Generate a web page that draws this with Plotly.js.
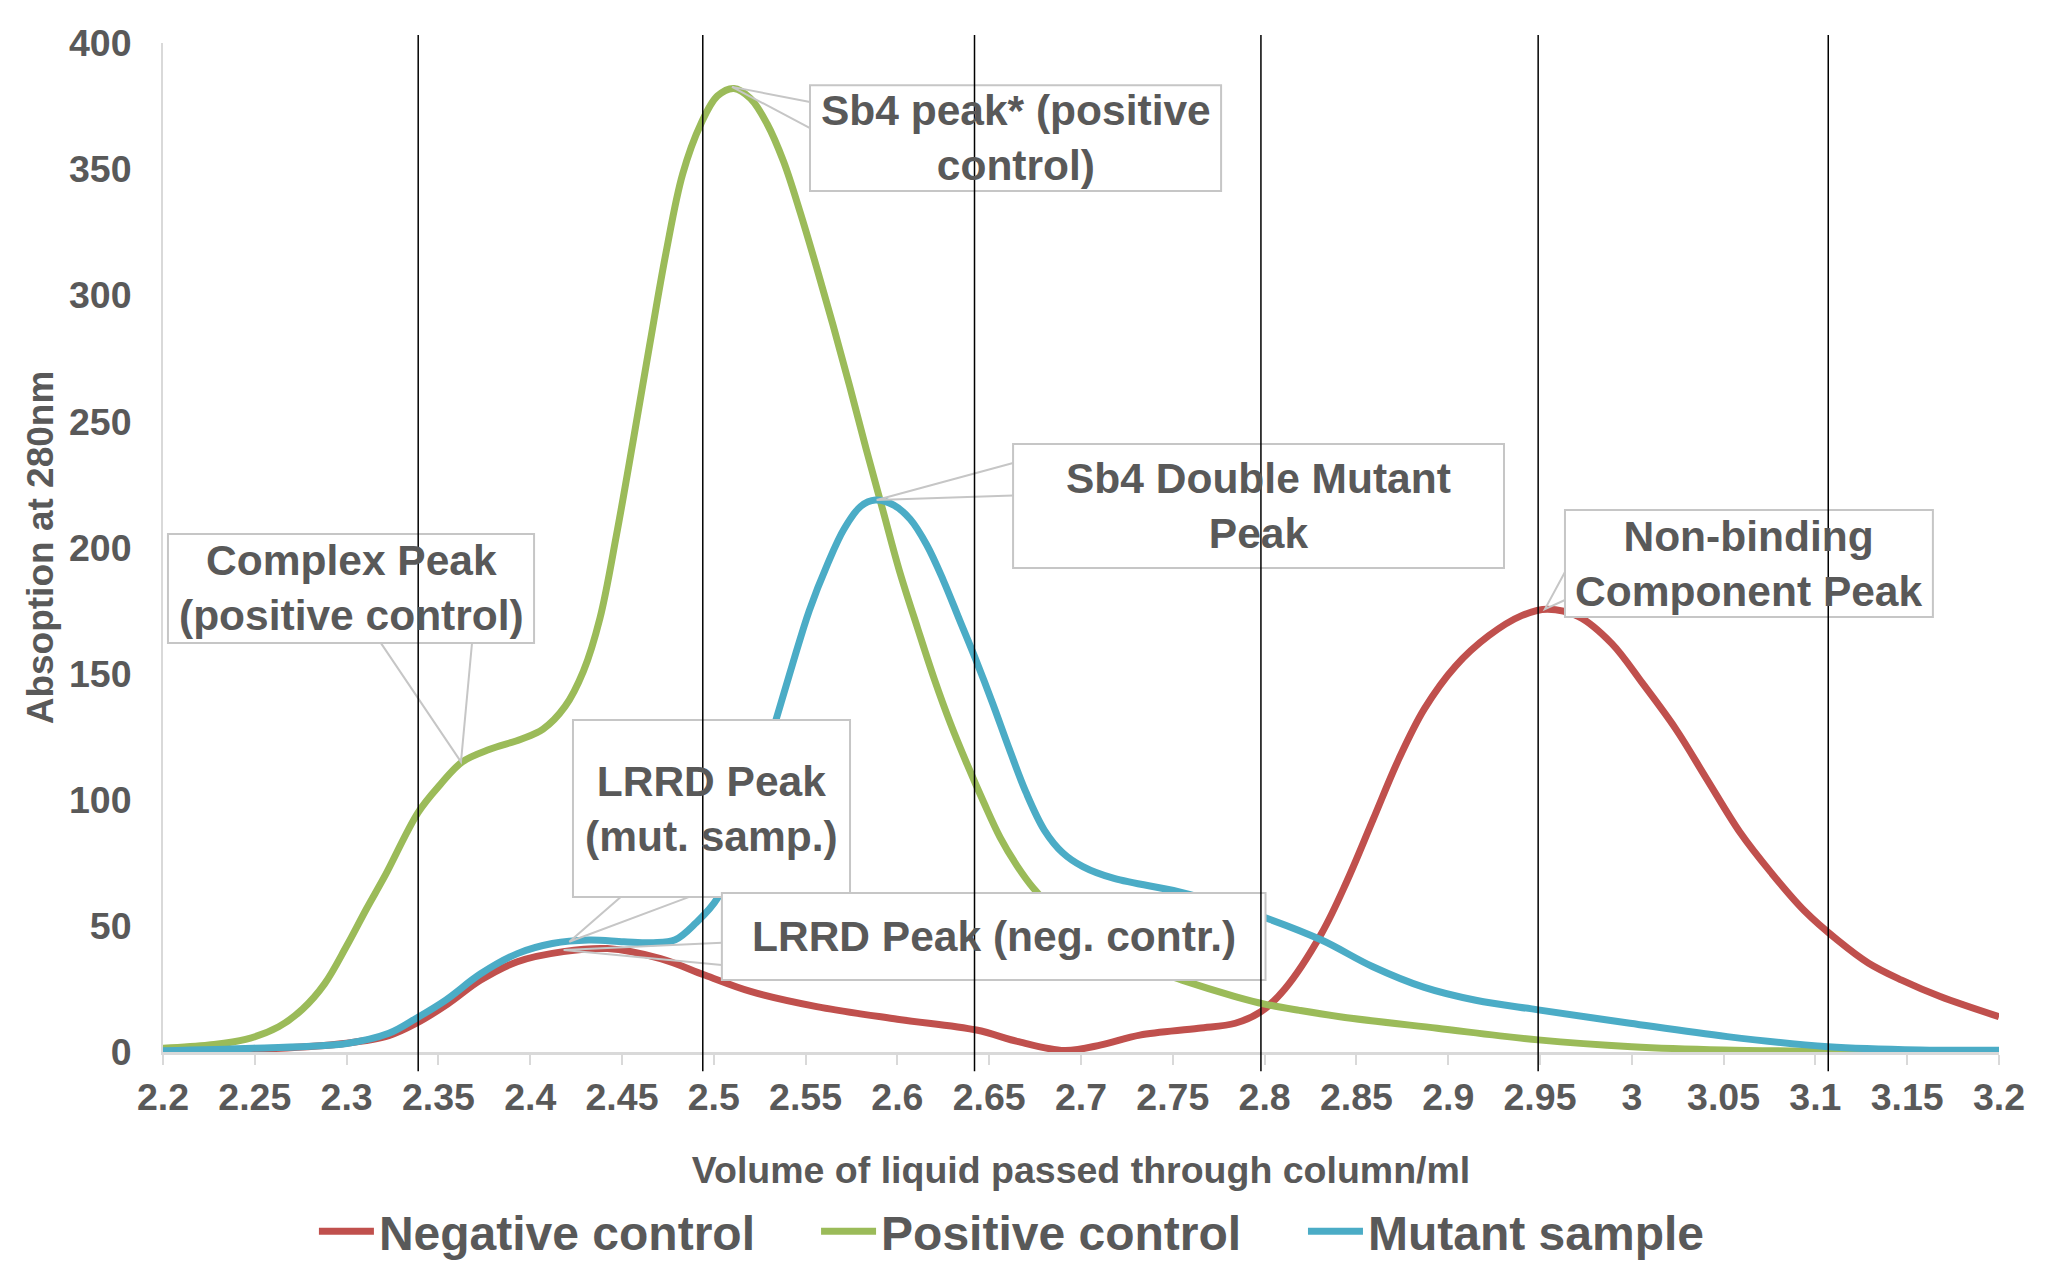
<!DOCTYPE html>
<html>
<head>
<meta charset="utf-8">
<script src="https://cdn.plot.ly/plotly-3.0.1.min.js"></script>
<style>
  html, body { margin: 0; padding: 0; background: #ffffff; }
  #chart { width: 2061px; height: 1265px; }
</style>
</head>
<body>
<div id="chart"></div>
<script>
// ---------- data ----------
const seriesNames = ['Negative control', 'Positive control', 'Mutant sample'];

const negX = [2.20, 2.25, 2.30, 2.323, 2.338, 2.355, 2.373, 2.393, 2.418, 2.442, 2.471, 2.495, 2.52, 2.556, 2.60, 2.643, 2.666, 2.691, 2.711, 2.732, 2.764, 2.784, 2.798, 2.811, 2.831, 2.845, 2.859, 2.873, 2.887, 2.904, 2.922, 2.940, 2.954, 2.971, 2.989, 3.006, 3.024, 3.041, 3.059, 3.076, 3.094, 3.112, 3.129, 3.147, 3.168, 3.20];
const negY = [0.3, 1, 3.5, 6.5, 11.4, 19, 28.5, 35.8, 39.8, 41, 37, 30.5, 24, 18, 13, 8.7, 4.1, 0.6, 2.8, 6.7, 9.4, 11.4, 16, 25, 47, 68, 92, 116, 136, 153, 165, 173, 175.5, 172.6, 162, 146, 128, 108, 87, 71, 56, 44.4, 35.2, 28.5, 22, 14];

const posX = [2.20, 2.225, 2.245, 2.263, 2.276, 2.288, 2.300, 2.311, 2.321, 2.339, 2.351, 2.363, 2.378, 2.395, 2.407, 2.419, 2.429, 2.438, 2.447, 2.456, 2.465, 2.474, 2.483, 2.493, 2.502, 2.511, 2.520, 2.529, 2.538, 2.547, 2.556, 2.565, 2.574, 2.583, 2.592, 2.601, 2.611, 2.620, 2.629, 2.638, 2.647, 2.656, 2.665, 2.674, 2.69, 2.71, 2.73, 2.755, 2.784, 2.80, 2.819, 2.841, 2.894, 2.949, 3.00, 3.05, 3.107, 3.15, 3.20];
const posY = [1.5, 2.8, 5, 10, 17, 27, 42, 57, 70, 95, 106, 115, 120, 124, 128, 137, 151, 172, 205, 242, 280, 317, 348, 368, 379, 382, 378, 368, 353, 333, 311, 288, 264, 239, 215, 191, 168, 148, 130, 114, 99, 85, 74, 65, 53, 43, 35, 28.5, 22, 19, 16.5, 14, 9.4, 4.8, 2.1, 0.8, 0.3, 0.1, 0];

const mutX = [2.20, 2.249, 2.30, 2.323, 2.338, 2.354, 2.373, 2.393, 2.412, 2.432, 2.451, 2.467, 2.479, 2.490, 2.502, 2.512, 2.523, 2.534, 2.543, 2.552, 2.562, 2.571, 2.580, 2.588, 2.598, 2.607, 2.616, 2.625, 2.634, 2.643, 2.652, 2.661, 2.670, 2.680, 2.690, 2.701, 2.718, 2.753, 2.776, 2.799, 2.831, 2.859, 2.887, 2.915, 2.949, 2.999, 3.052, 3.107, 3.157, 3.20];
const mutY = [0.5, 1.5, 3.4, 7.4, 13.4, 20.6, 31, 39, 43, 44.4, 43.7, 43.3, 44.5, 51, 61, 80, 106, 132, 154, 175, 193.5, 207.4, 216.3, 218.8, 216.8, 211.2, 201, 187, 171, 155, 138, 120, 103, 88, 79, 73.5, 68.8, 63.6, 59, 53.6, 44.4, 33.8, 25.6, 20.5, 16.7, 11.4, 6.1, 2.1, 0.8, 0.7];

const xTickVals = [2.2, 2.25, 2.3, 2.35, 2.4, 2.45, 2.5, 2.55, 2.6, 2.65, 2.7, 2.75, 2.8, 2.85, 2.9, 2.95, 3.0, 3.05, 3.1, 3.15, 3.2];
const xTickText = ['2.2', '2.25', '2.3', '2.35', '2.4', '2.45', '2.5', '2.55', '2.6', '2.65', '2.7', '2.75', '2.8', '2.85', '2.9', '2.95', '3', '3.05', '3.1', '3.15', '3.2'];
const yTickVals = [0, 50, 100, 150, 200, 250, 300, 350, 400];
const yTickText = ['0', '50', '100', '150', '200', '250', '300', '350', '400'];

// hand-drawn vertical marker lines (x in ml)
const markerLinesX = [2.339, 2.494, 2.642, 2.798, 2.949, 3.107];

// ---------- styling / layout ----------
const colors = ['#C0504D', '#9BBB59', '#4BACC6'];
const textColor = '#595959';
const FONT = '"Liberation Sans", Arial, Helvetica, sans-serif';
const legendKeys = ['legend', 'legend2', 'legend3'];
const legendX = [0.0822, 0.3557, 0.6209];

const traces = [
  {x: negX, y: negY, name: seriesNames[0]},
  {x: posX, y: posY, name: seriesNames[1]},
  {x: mutX, y: mutY, name: seriesNames[2]}
].map((t, i) => Object.assign(t, {
  type: 'scatter', mode: 'lines', legend: legendKeys[i],
  line: {color: colors[i], width: 7, shape: 'spline', smoothing: 1},
  hoverinfo: 'skip'
}));

// callout boxes: [x0, x1, y0, y1] in data units, wedge tip and base points
const callouts = [
  {text: 'Sb4 peak* (positive<br>control)', box: [2.5524, 2.7763, 341.3, 383.3],
   tip: [2.5099, 382.6], b1: [2.5524, 376.6], b2: [2.5524, 366.3]},
  {text: 'Sb4 Double Mutant<br>Peak', box: [2.663, 2.9304, 191.9, 241.0],
   tip: [2.5887, 218.8], b1: [2.663, 233.5], b2: [2.663, 220.6]},
  {text: 'Non-binding<br>Component Peak', box: [2.9636, 3.164, 172.4, 214.9],
   tip: [2.9527, 175.6], b1: [2.9636, 190.3], b2: [2.9636, 179.2]},
  {text: 'Complex Peak<br>(positive control)', box: [2.2027, 2.4021, 162.1, 205.4],
   tip: [2.3623, 115.0], b1: [2.3187, 162.1], b2: [2.3683, 162.1]},
  {text: 'LRRD Peak<br>(mut. samp.)', box: [2.4233, 2.5742, 61.4, 131.6],
   tip: [2.4213, 43.7], b1: [2.4493, 61.4], b2: [2.4863, 61.4]},
  {text: 'LRRD Peak (neg. contr.)', box: [2.5044, 2.8005, 28.5, 63.0],
   tip: [2.4182, 40.4], b1: [2.5044, 43.3], b2: [2.5044, 34.5]}
];

const shapes = [];
const annotations = [];
callouts.forEach(c => {
  shapes.push({type: 'rect', xref: 'x', yref: 'y', layer: 'above',
    x0: c.box[0], x1: c.box[1], y0: c.box[2], y1: c.box[3],
    fillcolor: '#ffffff', line: {color: '#c6c6c6', width: 2}});
  shapes.push({type: 'path', xref: 'x', yref: 'y', layer: 'above',
    path: `M${c.b1[0]},${c.b1[1]} L${c.tip[0]},${c.tip[1]} L${c.b2[0]},${c.b2[1]}`,
    line: {color: '#c6c6c6', width: 2}});
  annotations.push({xref: 'x', yref: 'y',
    x: (c.box[0] + c.box[1]) / 2, y: (c.box[2] + c.box[3]) / 2,
    xanchor: 'center', yanchor: 'middle', showarrow: false, align: 'center',
    text: c.text, font: {family: FONT, size: 42.5, color: textColor, weight: 'bold'}});
});
markerLinesX.forEach(xv => {
  shapes.push({type: 'line', xref: 'x', yref: 'paper', layer: 'above',
    x0: xv, x1: xv, y0: -0.019, y1: 1.008, line: {color: '#000000', width: 1.5}});
});

const legendFont = {family: FONT, size: 48, color: textColor, weight: 'bold'};
const layout = {
  width: 2061, height: 1265,
  margin: {l: 163, r: 62, t: 43, b: 213, autoexpand: false},
  paper_bgcolor: '#ffffff', plot_bgcolor: '#ffffff',
  font: {family: FONT, color: textColor, size: 37, weight: 'bold'},
  showlegend: true,
  xaxis: {range: [2.2, 3.2], tickmode: 'array', tickvals: xTickVals, ticktext: xTickText,
    ticks: 'outside', ticklen: 10, tickwidth: 2, tickcolor: '#d9d9d9',
    showline: true, linecolor: '#d9d9d9', linewidth: 3, showgrid: false, zeroline: false,
    ticklabelstandoff: 0, automargin: false,
    tickfont: {family: FONT, size: 37.5, color: textColor, weight: 'bold'},
    title: {text: 'Volume of liquid passed through column/ml', standoff: 40,
      font: {family: FONT, size: 37.5, color: textColor, weight: 'bold'}}},
  yaxis: {range: [0, 400], tickmode: 'array', tickvals: yTickVals, ticktext: yTickText,
    ticks: '', showline: true, linecolor: '#d9d9d9', linewidth: 2, showgrid: false, zeroline: false,
    tickfont: {family: FONT, size: 37.5, color: textColor, weight: 'bold'},
    ticklabelstandoff: 22, automargin: false,
    title: {text: 'Absoption at 280nm', standoff: 4,
      font: {family: FONT, size: 37, color: textColor, weight: 'bold'}}},
  shapes: shapes,
  annotations: annotations
};
legendKeys.forEach((k, i) => {
  layout[k] = {orientation: 'h', x: legendX[i], xanchor: 'left', y: -0.178, yanchor: 'middle',
    font: legendFont, itemwidth: 55, bgcolor: 'rgba(0,0,0,0)'};
});

Plotly.newPlot('chart', traces, layout, {displayModeBar: false, staticPlot: true});
</script>
</body>
</html>
